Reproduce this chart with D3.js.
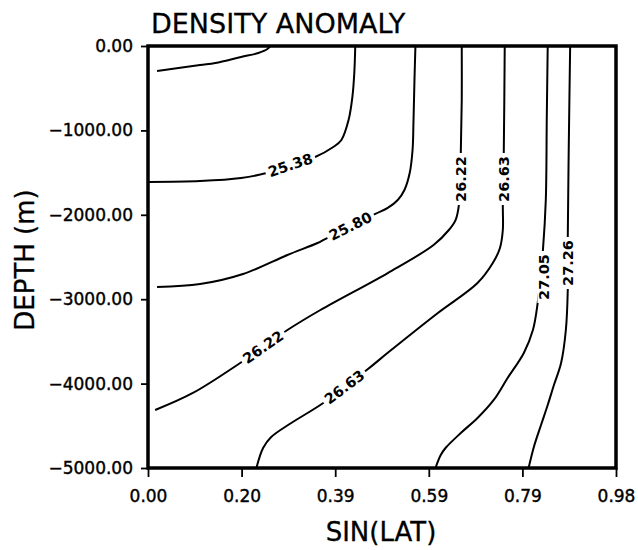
<!DOCTYPE html>
<html><head><meta charset="utf-8">
<script src="https://cdn.jsdelivr.net/npm/d3@7"></script>
<style>
body{margin:0;background:#fff}
svg{display:block}
text{font-family:"DejaVu Sans",sans-serif;fill:#000}
</style>
</head><body>
<svg id="c" width="638" height="550"></svg>
<script>
// ---- data ----
const xTicks = [0, 0.196, 0.392, 0.588, 0.784, 0.98];
const xTickLabels = ["0.00", "0.20", "0.39", "0.59", "0.79", "0.98"];
const yTicks = [0, -1000, -2000, -3000, -4000, -5000];
const yTickLabels = ["0.00", "\u22121000.00", "\u22122000.00", "\u22123000.00", "\u22124000.00", "\u22125000.00"];

const levels = [24.96, 25.38, 25.80, 26.22, 26.63, 27.05, 27.26];

// contour polylines as [sin(lat), depth (m)]
const c2496 = [[0.019,-296],[0.109,-225],[0.141,-201],[0.195,-130],[0.231,-83],[0.250,-36],[0.256,0]];
const c2538 = [[0.002,-1611],[0.109,-1600],[0.195,-1564],[0.248,-1505],[0.298,-1410],[0.350,-1315],[0.388,-1197],[0.405,-1114],[0.420,-877],[0.428,-604],[0.432,-320],[0.434,0]];
const c2580 = [[0.019,-2855],[0.109,-2820],[0.199,-2701],[0.292,-2476],[0.355,-2334],[0.371,-2287],[0.476,-1990],[0.502,-1919],[0.523,-1825],[0.537,-1706],[0.548,-1505],[0.554,-1232],[0.556,-877],[0.558,-403],[0.560,0]];
const c2622 = [[0.015,-4313],[0.094,-4111],[0.193,-3756],[0.292,-3365],[0.361,-3128],[0.502,-2690],[0.598,-2358],[0.630,-2180],[0.644,-2062],[0.651,-1884],[0.655,-1268],[0.657,-640],[0.657,0]];
const c2663 = [[0.227,-5000],[0.241,-4763],[0.258,-4633],[0.300,-4467],[0.367,-4230],[0.458,-3839],[0.504,-3626],[0.607,-3163],[0.690,-2808],[0.722,-2571],[0.737,-2393],[0.743,-2180],[0.743,-1884],[0.745,-1268],[0.747,0]];
const c2705 = [[0.602,-5000],[0.613,-4846],[0.623,-4763],[0.655,-4585],[0.690,-4408],[0.724,-4194],[0.753,-3934],[0.787,-3637],[0.806,-3365],[0.816,-3045],[0.827,-2417],[0.833,-1825],[0.835,-877],[0.837,0]];
const c2726 = [[0.797,-5000],[0.808,-4751],[0.823,-4491],[0.837,-4254],[0.850,-4017],[0.865,-3756],[0.875,-3365],[0.879,-2891],[0.879,-2275],[0.881,-1232],[0.884,0]];

// label anchors: [levelIndex, sin(lat), depth]
const labelAnchors = [
  [1, 0.298, -1410],
  [2, 0.424, -2133],
  [3, 0.241, -3566],
  [3, 0.655, -1576],
  [4, 0.411, -4040],
  [4, 0.745, -1576],
  [5, 0.829, -2737],
  [6, 0.879, -2571]
];

const contours = [c2496, c2538, c2580, c2622, c2663, c2705, c2726].map((pts, i) => ({level: levels[i], pts}));

// ---- layout ----
const svg = d3.select("#c");
const L = 148, R = 616, T = 46, B = 468;
const x = d3.scaleLinear().domain([0, 0.98]).range([L, R]);
const y = d3.scaleLinear().domain([0, -5000]).range([T, B]);

svg.append("defs").append("clipPath").attr("id", "clip")
  .append("rect").attr("x", L).attr("y", T).attr("width", R - L).attr("height", B - T);

// title
svg.append("text").attr("x", 151).attr("y", 33).attr("font-size", 27)
  .attr("stroke", "#000").attr("stroke-width", 0.3).text("DENSITY ANOMALY");

// axes
const xAxis = d3.axisBottom(x).tickValues(xTicks).tickFormat((d, i) => xTickLabels[i]).tickSize(9).tickPadding(13);
const gx = svg.append("g").attr("transform", `translate(0,${B})`).call(xAxis);
gx.select(".domain").remove();
gx.selectAll("line").attr("stroke", "#000").attr("stroke-width", 1.8);
gx.selectAll("text").attr("font-size", 17).attr("font-family", "DejaVu Sans").attr("fill", "#000")
  .attr("stroke", "#000").attr("stroke-width", 0.4);

const yAxis = d3.axisLeft(y).tickValues(yTicks).tickFormat((d, i) => yTickLabels[i]).tickSize(7).tickPadding(8);
const gy = svg.append("g").attr("transform", `translate(${L},0)`).call(yAxis);
gy.select(".domain").remove();
gy.selectAll("line").attr("stroke", "#000").attr("stroke-width", 1.8);
gy.selectAll("text").attr("font-size", 17).attr("font-family", "DejaVu Sans").attr("fill", "#000")
  .attr("stroke", "#000").attr("stroke-width", 0.4);

// axis titles
svg.append("text").attr("x", 381).attr("y", 541).attr("text-anchor", "middle").attr("font-size", 26)
  .attr("stroke", "#000").attr("stroke-width", 0.3).text("SIN(LAT)");
svg.append("text").attr("transform", "translate(34,260) rotate(-90)").attr("text-anchor", "middle").attr("font-size", 26)
  .attr("stroke", "#000").attr("stroke-width", 0.3).text("DEPTH (m)");

// contours
const line = d3.line().x(d => x(d[0])).y(d => y(d[1])).curve(d3.curveCatmullRom.alpha(0.5));
const gc = svg.append("g").attr("clip-path", "url(#clip)");
gc.selectAll("path").data(contours).join("path")
  .attr("d", d => line(d.pts))
  .attr("fill", "none").attr("stroke", "#000").attr("stroke-width", 2).attr("stroke-linejoin", "round");

// labels
const gl = svg.append("g");
labelAnchors.forEach(([li, sx, dep]) => {
  const pts = contours[li].pts.map(p => [x(p[0]), y(p[1])]);
  const px = x(sx), py = y(dep);
  let best = 0, bd = Infinity;
  for (let i = 0; i < pts.length - 1; i++) {
    const mx = (pts[i][0] + pts[i+1][0]) / 2, my = (pts[i][1] + pts[i+1][1]) / 2;
    const dd = (mx - px) ** 2 + (my - py) ** 2;
    if (dd < bd) { bd = dd; best = i; }
  }
  const dx = pts[best+1][0] - pts[best][0], dy = pts[best+1][1] - pts[best][1];
  let a = Math.atan2(dy, dx) * 180 / Math.PI;
  if (a >= 90) a -= 180;
  if (a < -90) a += 180;
  if (Math.abs(a) > 75) a = -90;
  const g = gl.append("g").attr("transform", `translate(${px},${py}) rotate(${a})`);
  const txt = levels[li].toFixed(2);
  const w = 52, h = 13;
  g.append("rect").attr("x", -w/2).attr("y", -h/2).attr("width", w).attr("height", h).attr("fill", "#fff");
  g.append("text").attr("text-anchor", "middle").attr("dy", "0.36em").attr("font-size", 14.5).attr("font-weight", "bold").text(txt);
});

// frame
svg.append("rect").attr("x", L).attr("y", T).attr("width", R - L).attr("height", B - T)
  .attr("fill", "none").attr("stroke", "#000").attr("stroke-width", 3.5);
</script>
</body></html>
